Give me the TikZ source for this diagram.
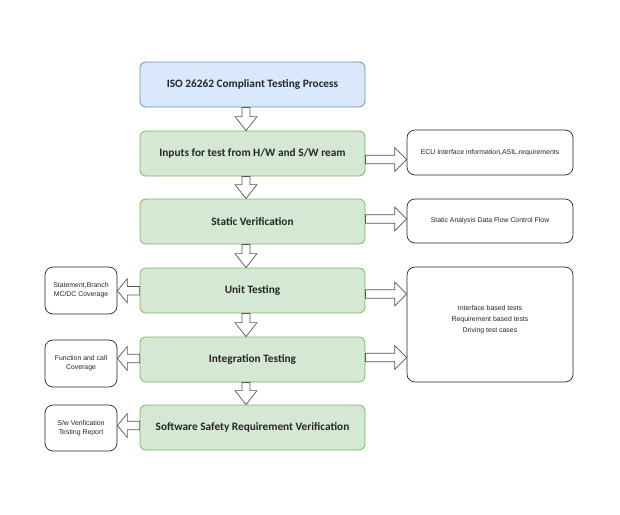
\documentclass[tikz,border=0pt]{standalone}
\usepackage{fontspec}
\setmainfont{Liberation Sans}
\newfontfamily\calib{Carlito}
\usetikzlibrary{calc}
\definecolor{bluefill}{HTML}{DAE8FC}
\definecolor{bluedraw}{HTML}{6C8EBF}
\definecolor{greenfill}{HTML}{D5E8D4}
\definecolor{greendraw}{HTML}{82B366}
\definecolor{arrowgray}{HTML}{555555}
\tikzset{
  mainbox/.style={draw=greendraw, fill=greenfill, rounded corners=6pt, line width=0.8pt,
    minimum width=225pt, minimum height=45pt, inner sep=0pt,
    font=\calib\bfseries\fontsize{11.3}{13}\selectfont, text=black!85},
  topbox/.style={mainbox, draw=bluedraw, fill=bluefill},
  sidebox/.style={draw=black!85, fill=white, rounded corners=8pt, line width=0.7pt,
    inner sep=0pt, align=center, font=\fontsize{6.9}{9}\selectfont, text=black!85},
  barrow/.style={draw=arrowgray, fill=white, line width=0.7pt, line join=miter},
}
% right-pointing block arrow: #1 start (x), #2 end (x), #3 y
\newcommand{\rblock}[3]{%
  \draw[barrow] let \p1=(#1), \p2=(#2), \p3=(#3) in
    (\x1,\y3+4.25pt) -- (\x2-12pt,\y3+4.25pt) -- (\x2-12pt,\y3+12pt) -- (\x2,\y3)
    -- (\x2-12pt,\y3-12pt) -- (\x2-12pt,\y3-4.25pt) -- (\x1,\y3-4.25pt) -- cycle;}
\newcommand{\lblock}[3]{%
  \draw[barrow] let \p1=(#1), \p2=(#2), \p3=(#3) in
    (\x1,\y3+4.25pt) -- (\x2+10pt,\y3+4.25pt) -- (\x2+10pt,\y3+12pt) -- (\x2,\y3)
    -- (\x2+10pt,\y3-12pt) -- (\x2+10pt,\y3-4.25pt) -- (\x1,\y3-4.25pt) -- cycle;}
% down block arrow: #1 start (y), #2 end (y), #3 x
\newcommand{\dblock}[3]{%
  \draw[barrow] let \p1=(#1), \p2=(#2), \p3=(#3) in
    (\x3-4pt,\y1) -- (\x3-4pt,\y2+14pt) -- (\x3-11pt,\y2+14pt) -- (\x3,\y2)
    -- (\x3+11pt,\y2+14pt) -- (\x3+4pt,\y2+14pt) -- (\x3+4pt,\y1) -- cycle;}
\begin{document}
\begin{tikzpicture}[x=1pt,y=-1pt]
\useasboundingbox[fill=white] (0,0) rectangle (620,514);
% main column
\node[topbox]  (iso)   at (252.5,84.5)  {ISO 26262 Compliant Testing Process};
\node[mainbox] (inp)   at (252.5,153.5) {Inputs for test from H/W and S/W ream};
\node[mainbox] (stat)  at (252.5,221.5) {Static Verification};
\node[mainbox] (unit)  at (252.5,290.5) {Unit Testing};
\node[mainbox] (integ) at (252.5,359.5) {Integration Testing};
\node[mainbox] (ssr)   at (252.5,427.5) {Software Safety Requirement Verification};
% right column
\node[sidebox, minimum width=166pt, minimum height=45pt] (ecu) at (490,152.5)
  {ECU Interface information,ASIL,requirements};
\node[sidebox, minimum width=166pt, minimum height=44pt] (sa) at (490,221)
  {Static Analysis Data Flow Control Flow};
\node[sidebox, minimum width=166pt, minimum height=115pt] (big) at (490,324.5) {};
\node[align=center, font=\fontsize{6.9}{11}\selectfont, text=black!85] (bigtxt) at (490,320)
  {Interface based tests\\Requirement based tests\\Driving test cases};
% left column
\node[sidebox, minimum width=72pt, minimum height=47pt] (cov1) at (81,290.5)
  {Statement,Branch\\MC/DC Coverage};
\node[sidebox, minimum width=72pt, minimum height=47pt] (cov2) at (81,363.5)
  {Function and call\\Coverage};
\node[sidebox, minimum width=72pt, minimum height=46pt] (rep) at (81,428)
  {S/w Verification\\Testing Report};
% helper coordinates for arrow heights
\coordinate (xd) at (246,0);
\coordinate (y1) at (0,159.5);
\coordinate (y2) at (0,219);
\coordinate (y3) at (0,294);
\coordinate (y4) at (0,357.5);
\coordinate (y5) at (0,290.7);
\coordinate (y6) at (0,358.5);
\coordinate (y7) at (0,425.5);
% down arrows
\dblock{iso.south}{inp.north}{xd}
\dblock{inp.south}{stat.north}{xd}
\dblock{stat.south}{unit.north}{xd}
\dblock{unit.south}{integ.north}{xd}
\dblock{integ.south}{ssr.north}{xd}
% right arrows
\rblock{inp.east}{ecu.west}{y1}
\rblock{stat.east}{sa.west}{y2}
\rblock{unit.east}{big.west}{y3}
\rblock{integ.east}{big.west}{y4}
% left arrows
\lblock{unit.west}{cov1.east}{y5}
\lblock{integ.west}{cov2.east}{y6}
\lblock{ssr.west}{rep.east}{y7}
\end{tikzpicture}
\end{document}
